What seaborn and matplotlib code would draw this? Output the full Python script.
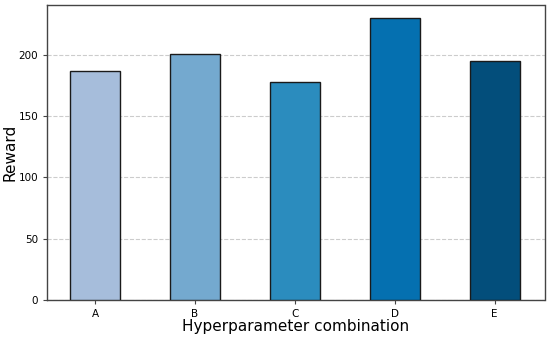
import matplotlib
matplotlib.use("Agg")
from matplotlib import pyplot as plt
import pandas as pd
import seaborn as sns

combos = ['A', 'B', 'C', 'D', 'E']
rewards = [187, 201, 178, 230, 195]
bar_colors = ['#a6bddb', '#74a9cf', '#2b8cbe', '#0570b0', '#034e7b']

df = pd.DataFrame({'combo': combos, 'reward': rewards})

sns.set_style('white', {'text.color': 'black', 'axes.labelcolor': 'black',
                        'xtick.color': 'black', 'ytick.color': 'black'})
plt.rcParams['font.family'] = ['DejaVu Sans']

fig, ax = plt.subplots(figsize=(5.5, 3.37), dpi=100)
sns.barplot(data=df, x='combo', y='reward', hue='combo', palette=bar_colors,
            saturation=1, width=0.5, edgecolor='#1a1a1a', linewidth=1.0,
            legend=False, ax=ax, zorder=3)

ax.set_xlim(-0.48, 4.5)
ax.set_ylim(0, max(rewards) * 1.047)
ax.set_yticks([0, 50, 100, 150, 200])
ax.yaxis.grid(True, linestyle='--', color='#cccccc', linewidth=0.8, zorder=0)
ax.set_axisbelow(True)

ax.set_xlabel('Hyperparameter combination', fontsize=11, labelpad=0)
ax.set_ylabel('Reward', fontsize=11, labelpad=1)
ax.tick_params(axis='both', labelsize=7.5, length=3, color='#444444',
               labelcolor='black', bottom=True, left=True)
for s in ax.spines.values():
    s.set_color('#444444')
    s.set_linewidth(1.0)

fig.subplots_adjust(left=0.086, right=0.99, top=0.985, bottom=0.11)
fig.savefig('out.png', dpi=100)
